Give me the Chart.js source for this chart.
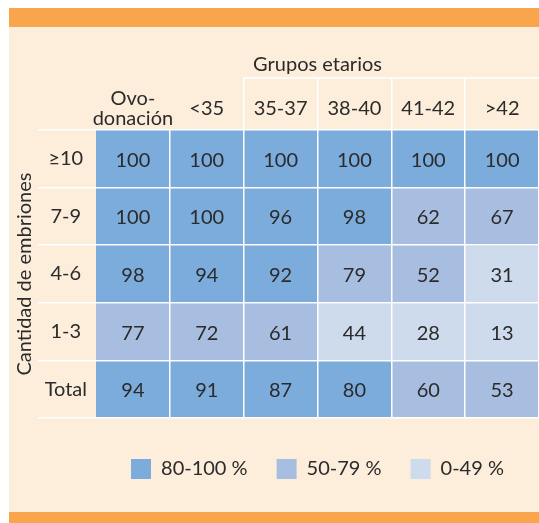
<!DOCTYPE html>
<html><head><meta charset="utf-8">
<script src="https://cdn.jsdelivr.net/npm/chart.js@4.4.1/dist/chart.umd.min.js"></script>
<style>html,body{margin:0;padding:0;background:#fff}canvas{display:block}</style>
</head><body>
<canvas id="c" width="539" height="523"></canvas>
<script>
const columnLabels = [['Ovo-', 'donación'], '<35', '35-37', '38-40', '41-42', '>42'];
const rowLabels = ['≥10', '7-9', '4-6', '1-3', 'Total'];
const rowGe10 = [100, 100, 100, 100, 100, 100];
const row7to9 = [100, 100, 96, 98, 62, 67];
const row4to6 = [98, 94, 92, 79, 52, 31];
const row1to3 = [77, 72, 61, 44, 28, 13];
const rowTotal = [94, 91, 87, 80, 60, 53];
const legendLabels = ['80-100 %', '50-79 %', '0-49 %'];
const legendMins = [80, 50, 0];
const xTitle = 'Grupos etarios';
const yTitle = 'Cantidad de embriones';

const rowValues = [rowGe10, row7to9, row4to6, row1to3, rowTotal];
const bandColors = ['#7BACDC', '#A8BEE0', '#CDDBEC'];
const textColor = '#2b2b2b';
const FONT = 'Lato, "DejaVu Sans", sans-serif';
const HEADER_TICK = 52;
function bandOf(v) { for (let i = 0; i < legendMins.length; i++) if (v >= legendMins[i]) return i; return legendMins.length - 1; }

Chart.defaults.font.family = FONT;
Chart.defaults.color = textColor;

const bgPlugin = {
  id: 'bg',
  beforeDraw(chart) {
    const c = chart.ctx, W = chart.width, H = chart.height;
    c.save();
    c.fillStyle = '#ffffff'; c.fillRect(0, 0, W, H);
    c.fillStyle = '#FDEDDB'; c.fillRect(9, 27, W - 9, H - 27 - 11);
    c.fillStyle = '#F9A54B'; c.fillRect(9, 8, W - 9, 19); c.fillRect(9, H - 11, W - 9, 11);
    c.restore();
  },
  afterDraw(chart) {
    const xs = chart.scales.x, c = chart.ctx;
    const x0 = (xs.getPixelForTick(1) + xs.getPixelForTick(2)) / 2;
    const y = chart.chartArea.top - HEADER_TICK;
    c.save();
    c.strokeStyle = '#ffffff'; c.lineWidth = 1.5;
    c.beginPath(); c.moveTo(x0 - 0.75, y); c.lineTo(chart.chartArea.right, y); c.stroke();
    c.restore();
  }
};
const valuePlugin = {
  id: 'values',
  afterDatasetsDraw(chart) {
    const c = chart.ctx;
    c.save();
    c.font = '20px ' + FONT; c.fillStyle = textColor; c.textAlign = 'center'; c.textBaseline = 'middle';
    chart.data.datasets.forEach((ds, di) => {
      chart.getDatasetMeta(di).data.forEach((el, i) => {
        c.fillText(String(rowValues[di][i]), el.x, (el.y + el.base) / 2 + 1.5);
      });
    });
    c.restore();
  }
};

new Chart(document.getElementById('c'), {
  type: 'bar',
  data: {
    labels: columnLabels,
    datasets: rowValues.map((vals, r) => ({
      label: rowLabels[r],
      data: vals.map(() => [r, r + 1]),
      yAxisID: 'yv',
      backgroundColor: ctx => bandColors[bandOf(vals[ctx.dataIndex])],
      borderWidth: 0,
      borderSkipped: false,
      categoryPercentage: 1,
      barPercentage: 1,
      grouped: false
    }))
  },
  options: {
    responsive: false,
    devicePixelRatio: 1,
    animation: false,
    layout: { padding: { left: 9, top: 50, right: 0, bottom: 34 } },
    scales: {
      x: {
        type: 'category',
        position: 'top',
        offset: true,
        afterFit: s => { s.height = 80; },
        border: { display: false },
        grid: {
          offset: true, z: 1, lineWidth: 1.5,
          color: ctx => ctx.index === 0 ? 'rgba(0,0,0,0)' : '#ffffff',
          tickColor: ctx => ctx.index >= 2 ? '#ffffff' : 'rgba(0,0,0,0)',
          drawTicks: true, tickLength: HEADER_TICK
        },
        ticks: { font: { size: 20, lineHeight: 1.0 }, color: textColor, padding: -41, crossAlign: 'center', maxRotation: 0, autoSkip: false },
        title: { display: true, text: xTitle, font: { size: 20 }, color: textColor, padding: { top: 3, bottom: 4 } }
      },
      y: {
        type: 'category',
        position: 'left',
        labels: rowLabels,
        offset: true,
        afterFit: s => { s.width = 87; },
        border: { display: false },
        grid: {
          offset: true, z: 1, lineWidth: 1.5,
          color: ctx => ctx.index === rowLabels.length ? 'rgba(0,0,0,0)' : '#ffffff',
          drawTicks: true, tickLength: 58
        },
        ticks: { font: { size: 20 }, color: textColor, padding: -49, crossAlign: 'center', autoSkip: false },
        title: { display: true, text: yTitle, font: { size: 20 }, color: textColor, padding: { top: 4, bottom: 4 } }
      },
      yv: { type: 'linear', display: false, min: 0, max: rowLabels.length, reverse: true }
    },
    plugins: {
      tooltip: { enabled: false },
      legend: {
        position: 'bottom',
        fullSize: false,
        onClick: null,
        title: { display: true, text: '', font: { size: 12, lineHeight: 1 }, padding: 0 },
        labels: {
          font: { size: 20 }, color: textColor, boxWidth: 20, boxHeight: 20, padding: 29,
          generateLabels: () => legendLabels.map((t, i) => ({ text: t, fillStyle: bandColors[i], strokeStyle: bandColors[i], lineWidth: 0, hidden: false, fontColor: textColor }))
        }
      }
    }
  },
  plugins: [bgPlugin, valuePlugin]
});
</script>
</body></html>
